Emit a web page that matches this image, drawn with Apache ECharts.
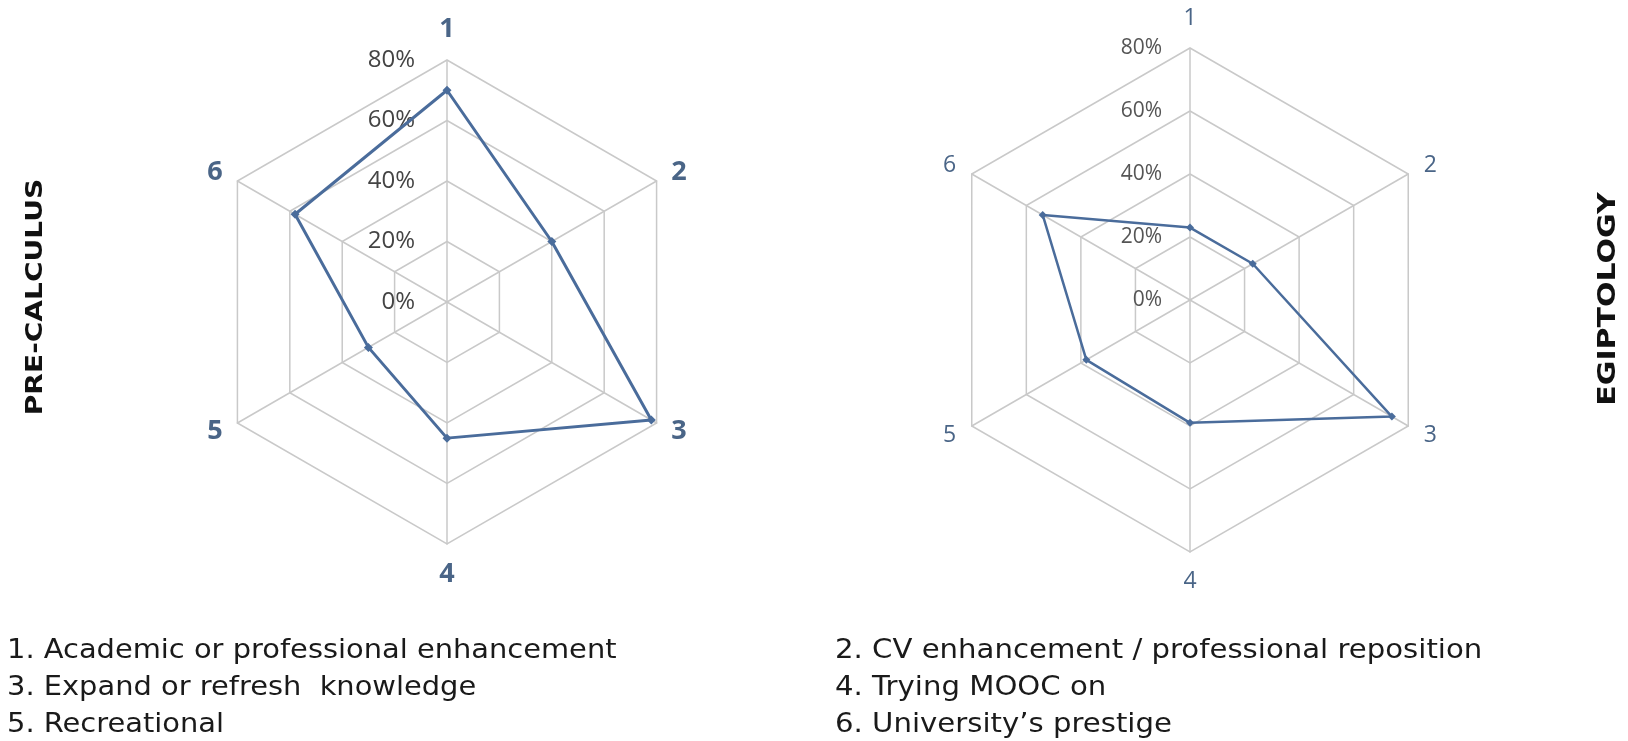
<!DOCTYPE html>
<html>
<head>
<meta charset="utf-8">
<script src="https://cdn.jsdelivr.net/npm/echarts@6/dist/echarts.min.js"></script>
<style>
html,body{margin:0;padding:0;background:#fff;}
#chart{width:1628px;height:741px;}
</style>
</head>
<body>
<div id="chart"></div>
<script>
// ---- data ----
const indicatorNames = ['1', '2', '3', '4', '5', '6'];
const preCalculus = [70, 40, 78, 45, 30, 58];
const egiptology = [23, 23, 74, 39, 38, 54];
const axisMin = 0;
const axisMax = 80;
const splitCount = 4;
const chartTitles = ['PRE-CALCULUS', 'EGIPTOLOGY'];
const legendLeft = ['1. Academic or professional enhancement', '3. Expand or refresh  knowledge', '5. Recreational'];
const legendRight = ['2. CV enhancement / professional reposition', '4. Trying MOOC on', '6. University\u2019s prestige'];

// ECharts places indicators counter-clockwise; the reference goes clockwise.
const order = [0, 5, 4, 3, 2, 1];

const nameColor = '#4A6587';
const lineColor = '#4A6C9B';
const gridColor = '#C9C9C9';

function buildIndicators(labelOpt) {
  return order.map((idx, k) => {
    const ind = { name: indicatorNames[idx], min: axisMin, max: axisMax };
    if (k === 0) ind.axisLabel = labelOpt;
    else ind.axisLabel = { show: false };
    return ind;
  });
}
function reorder(arr) { return order.map(i => arr[i]); }

function radarBase(center, radius, nameStyle, nameGap, labelOpt) {
  return {
    center: center,
    radius: radius,
    startAngle: 90,
    shape: 'polygon',
    splitNumber: splitCount,
    axisNameGap: nameGap,
    indicator: buildIndicators(labelOpt),
    axisName: nameStyle,
    splitArea: { show: false },
    splitLine: { lineStyle: { color: gridColor, width: 1.5 } },
    axisLine: { lineStyle: { color: gridColor, width: 1.5 } },
    axisTick: { show: false },
    axisLabel: { show: false }
  };
}

const chart = echarts.init(document.getElementById('chart'));

const legendFont = '27px "DejaVu Sans"';
const legendGraphics = [];
const lineYs = [651, 688, 725];
legendLeft.forEach((t, i) => legendGraphics.push({
  type: 'text', x: 7, y: lineYs[i], scaleX: 1.07,
  style: { text: t, font: legendFont, fill: '#1a1a1a', textAlign: 'left', textVerticalAlign: 'middle' }
}));
legendRight.forEach((t, i) => legendGraphics.push({
  type: 'text', x: 835, y: lineYs[i], scaleX: 1.08,
  style: { text: t, font: legendFont, fill: '#1a1a1a', textAlign: 'left', textVerticalAlign: 'middle' }
}));

const option = {
  backgroundColor: '#fff',
  animation: false,
  radar: [
    radarBase([447, 302], 242,
      { color: nameColor, fontSize: 27, fontWeight: 'bold', fontFamily: 'Open Sans' }, 17,
      { show: true, formatter: '{value}%', color: '#444', fontSize: 24, fontFamily: 'Open Sans', margin: 32, padding: [6, 0, 0, 0] }),
    radarBase([1190, 300], 252,
      { color: nameColor, fontSize: 23, fontWeight: 'normal', fontFamily: 'Open Sans' }, 18,
      { show: true, formatter: '{value}%', color: '#555', fontSize: 21, fontFamily: 'Open Sans', margin: 28, padding: [3, 0, 0, 0] })
  ],
  series: [
    {
      type: 'radar', radarIndex: 0, symbol: 'diamond', symbolSize: 9,
      lineStyle: { color: lineColor, width: 3 },
      itemStyle: { color: lineColor },
      data: [{ value: reorder(preCalculus), name: chartTitles[0] }]
    },
    {
      type: 'radar', radarIndex: 1, symbol: 'diamond', symbolSize: 8,
      lineStyle: { color: lineColor, width: 2.5 },
      itemStyle: { color: lineColor },
      data: [{ value: reorder(egiptology), name: chartTitles[1] }]
    }
  ],
  graphic: [
    {
      type: 'text', x: 36, y: 297, rotation: Math.PI / 2, scaleX: 1.22,
      style: { text: chartTitles[0], font: 'bold 23px "DejaVu Sans"', fill: '#111', textAlign: 'center', textVerticalAlign: 'middle' }
    },
    {
      type: 'text', x: 1608, y: 299, rotation: Math.PI / 2, scaleX: 1.2,
      style: { text: chartTitles[1], font: 'bold 25px "DejaVu Sans"', fill: '#111', textAlign: 'center', textVerticalAlign: 'middle' }
    }
  ].concat(legendGraphics)
};
chart.setOption(option);
</script>
</body>
</html>
